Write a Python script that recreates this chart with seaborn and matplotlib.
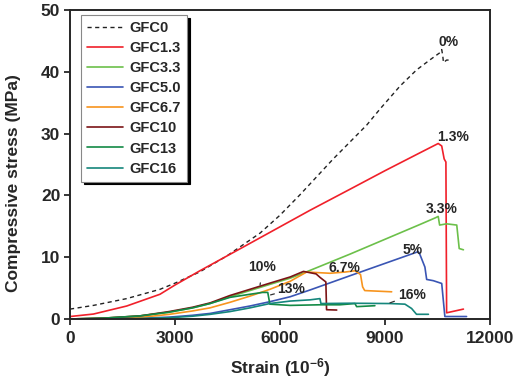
import matplotlib
matplotlib.use("Agg")
import matplotlib.pyplot as plt
import seaborn as sns

# Stress-strain curves
strain_gfc0 = [0, 670, 1620, 2570, 3000, 3700, 4480, 5430, 6000, 6570, 7520, 8480, 8860, 9430, 9900, 10300, 10570, 10620, 10650, 10670, 10760, 10900]
stress_gfc0 = [1.6, 2.2, 3.3, 4.8, 5.8, 7.6, 10.2, 13.9, 16.8, 20.1, 25.9, 31.4, 34.0, 37.7, 40.3, 42.0, 43.1, 43.6, 42.6, 41.5, 41.9, 41.9]

strain_gfc13 = [0, 670, 1620, 2570, 3000, 3710, 5000, 6860, 8000, 9000, 10000, 10520, 10620, 10690, 10740, 10760, 11240]
stress_gfc13 = [0.4, 0.8, 2.1, 4.0, 5.5, 7.8, 11.8, 17.6, 21.0, 24.0, 26.9, 28.4, 28.0, 25.9, 25.4, 1.0, 1.6]

strain_gfc33 = [0, 1000, 2000, 2830, 3500, 4000, 4570, 5140, 5710, 6290, 6700, 8000, 9000, 10000, 10450, 10520, 10560, 10760, 11050, 11120, 11240]
stress_gfc33 = [0, 0.15, 0.5, 1.1, 1.8, 2.5, 3.6, 4.6, 5.6, 6.6, 7.5, 10.5, 12.9, 15.3, 16.4, 16.6, 15.2, 15.4, 15.2, 11.4, 11.2]

strain_gfc50 = [0, 1000, 2000, 2830, 3500, 4000, 4570, 5140, 5710, 6290, 6860, 8000, 9000, 9950, 10000, 10140, 10190, 10380, 10620, 10710, 11330]
stress_gfc50 = [0, 0.03, 0.12, 0.3, 0.6, 0.9, 1.5, 2.1, 2.8, 3.6, 4.7, 7.0, 9.0, 10.9, 10.4, 8.4, 6.4, 6.2, 5.75, 0.4, 0.4]

strain_gfc67 = [0, 1000, 2000, 2830, 3500, 4000, 4570, 5140, 5710, 6290, 6760, 7430, 7860, 8140, 8300, 8360, 8420, 9190]
stress_gfc67 = [0, 0.05, 0.25, 0.75, 1.3, 1.8, 2.7, 3.7, 4.8, 6.1, 7.6, 7.4, 7.6, 7.8, 7.2, 5.2, 4.6, 4.4]

strain_gfc10 = [0, 1000, 2000, 2830, 3500, 4000, 4570, 5140, 5710, 6290, 6670, 7030, 7150, 7310, 7330, 7620]
stress_gfc10 = [0, 0.15, 0.5, 1.2, 1.9, 2.6, 3.8, 4.8, 5.8, 6.8, 7.7, 7.3, 6.7, 6.0, 1.5, 1.45]

strain_gfc13b = [0, 1000, 2000, 2830, 3500, 4000, 4570, 5140, 5500, 5650, 5710, 6290, 7140, 7710, 8140, 8190, 8710]
stress_gfc13b = [0, 0.15, 0.5, 1.1, 1.8, 2.5, 3.5, 4.0, 4.3, 4.3, 2.4, 2.2, 2.3, 2.3, 2.5, 2.0, 2.15]

strain_gfc16 = [0, 1000, 2000, 2830, 3500, 4000, 4570, 5140, 5710, 6290, 6860, 7140, 7170, 8000, 9140, 9570, 9760, 9900, 10240]
stress_gfc16 = [0, 0.02, 0.08, 0.2, 0.45, 0.75, 1.2, 1.8, 2.5, 2.9, 3.1, 3.3, 2.5, 2.55, 2.5, 2.4, 1.7, 0.76, 0.76]

names = ["GFC0", "GFC1.3", "GFC3.3", "GFC5.0", "GFC6.7", "GFC10", "GFC13", "GFC16"]
colors = ["#222222", "#f0202a", "#6cc04a", "#3a55b4", "#f7941e", "#7b1416", "#138a45", "#15867c"]
curves = [(strain_gfc0, stress_gfc0), (strain_gfc13, stress_gfc13), (strain_gfc33, stress_gfc33),
          (strain_gfc50, stress_gfc50), (strain_gfc67, stress_gfc67), (strain_gfc10, stress_gfc10),
          (strain_gfc13b, stress_gfc13b), (strain_gfc16, stress_gfc16)]

sns.set_style("ticks")
plt.rcParams["font.family"] = ["Liberation Sans", "DejaVu Sans"]
plt.rcParams["font.weight"] = "bold"
plt.rcParams["mathtext.fontset"] = "custom"
plt.rcParams["mathtext.rm"] = "Liberation Sans:bold"
plt.rcParams["mathtext.bf"] = "Liberation Sans:bold"
plt.rcParams["mathtext.default"] = "bf"

fig = plt.figure(figsize=(5.17, 3.78), dpi=100)
ax = fig.add_axes([0.1354, 0.1561, 0.8124, 0.8174])

for name, col, (xs, ys) in zip(names, colors, curves):
    ls = (0, (3, 2.5)) if name == "GFC0" else "-"
    lw = 1.0 if name == "GFC0" else 1.2
    sns.lineplot(x=xs, y=ys, ax=ax, sort=False, estimator=None, color=col,
                 linewidth=lw, linestyle=ls, label=name)

ax.set_xlim(0, 12000)
ax.set_ylim(0, 50)
ax.set_xticks([0, 3000, 6000, 9000, 12000])
ax.set_yticks([0, 10, 20, 30, 40, 50])
for sp in ax.spines.values():
    sp.set_linewidth(1.4)
    sp.set_visible(True)
ax.tick_params(direction="out", length=4, width=1.3, labelsize=12.5, pad=3)
ax.tick_params(axis="x", pad=5)
for lab in ax.get_xticklabels() + ax.get_yticklabels():
    lab.set_fontweight("bold")

ax.set_xlabel("Strain (10$^{-6}$)", fontsize=12.5, fontweight="bold", labelpad=7)
ax.set_ylabel("Compressive stress (MPa)", fontsize=12.5, fontweight="bold")
ax.yaxis.set_label_coords(-0.117, 0.44)

# Percentage labels
tk = dict(fontsize=10, fontweight="bold", ha="center", va="center")
ax.text(10830, 44.8, "0%", **tk)
ax.text(10950, 29.5, "1.3%", **tk)
ax.text(10620, 17.8, "3.3%", **tk)
ax.text(9790, 11.2, "5%", **tk)
ax.text(7830, 8.2, "6.7%", **tk)
lead = dict(arrowstyle="-", color="#333333", lw=0.9, shrinkA=4, shrinkB=0)
ax.annotate("10%", xy=(5430, 5.5), xytext=(5500, 8.4), arrowprops=lead, **tk)
ax.annotate("13%", xy=(5730, 3.9), xytext=(6330, 4.8), arrowprops=lead, **tk)
ax.annotate("16%", xy=(9140, 2.6), xytext=(9760, 3.9), arrowprops=lead, **tk)

leg = ax.legend(loc="upper left", bbox_to_anchor=(0.026, 0.984), borderaxespad=0,
                fontsize=10.5, handlelength=2.5, handletextpad=0.45, labelspacing=0.42,
                fancybox=False, shadow={"color": "black", "alpha": 1.0}, framealpha=1,
                edgecolor="#888888")
leg.get_frame().set_linewidth(0.8)
for t in leg.get_texts():
    t.set_fontweight("bold")

fig.savefig("out.png", dpi=100)
